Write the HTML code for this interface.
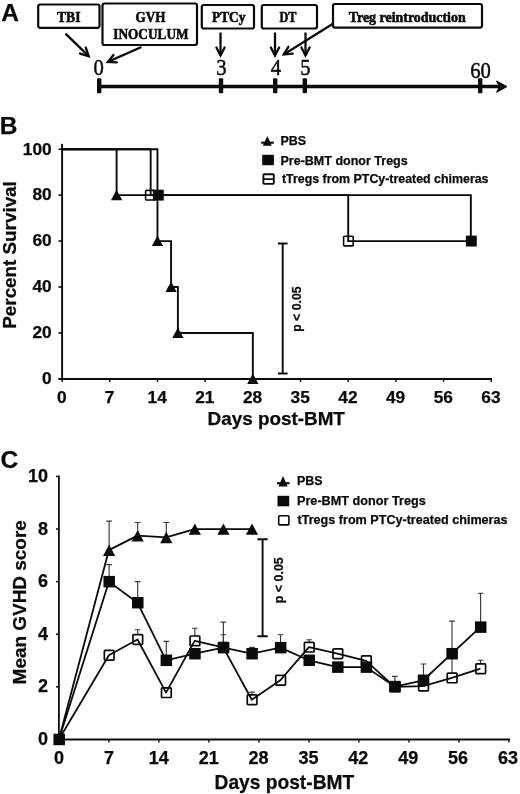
<!DOCTYPE html>
<html><head><meta charset="utf-8"><title>Figure</title>
<style>html,body{margin:0;padding:0;background:#fff;}svg{display:block;filter:blur(0.45px);}text{font-family:"Liberation Sans",sans-serif;font-weight:bold;fill:#0a0a0a;stroke:#0a0a0a;stroke-width:0.25px;}.s{font-family:"Liberation Serif",serif;font-weight:bold;stroke-width:0.6px;}.n{font-family:"Liberation Serif",serif;font-weight:normal;stroke-width:0.5px;}</style></head><body>
<svg width="520" height="794" viewBox="0 0 520 794">
<rect width="520" height="794" fill="#fff"/>
<g id="A">
<text x="1.2" y="20.8" font-size="24.5">A</text>
<rect x="38.2" y="4.5" width="61.3" height="23.3" rx="2" ry="2" fill="#fff" stroke="#0a0a0a" stroke-width="2.2"/>
<rect x="102.5" y="3.5" width="94.5" height="41.5" rx="2" ry="2" fill="#fff" stroke="#0a0a0a" stroke-width="2.2"/>
<rect x="201.8" y="5" width="52.19999999999999" height="23.5" rx="2" ry="2" fill="#fff" stroke="#0a0a0a" stroke-width="2.2"/>
<rect x="261.8" y="5" width="55.19999999999999" height="23.5" rx="2" ry="2" fill="#fff" stroke="#0a0a0a" stroke-width="2.2"/>
<rect x="333" y="4.0" width="149" height="23.6" rx="2" ry="2" fill="#fff" stroke="#0a0a0a" stroke-width="2.2"/>
<text class="s" stroke="#0a0a0a" stroke-width="0.6" x="57" y="22.3" font-size="15.2" textLength="23.5" lengthAdjust="spacingAndGlyphs" text-anchor="start">TBI</text>
<text class="s" stroke="#0a0a0a" stroke-width="0.6" x="135.6" y="22.4" font-size="15.2" textLength="29.8" lengthAdjust="spacingAndGlyphs" text-anchor="start">GVH</text>
<text class="s" stroke="#0a0a0a" stroke-width="0.6" x="113.3" y="38.9" font-size="15.2" textLength="75.2" lengthAdjust="spacingAndGlyphs" text-anchor="start">INOCULUM</text>
<text class="s" stroke="#0a0a0a" stroke-width="0.6" x="212" y="22.3" font-size="15.2" textLength="33.5" lengthAdjust="spacingAndGlyphs" text-anchor="start">PTCy</text>
<text class="s" stroke="#0a0a0a" stroke-width="0.6" x="279.5" y="22.3" font-size="15.2" textLength="17" lengthAdjust="spacingAndGlyphs" text-anchor="start">DT</text>
<text class="s" stroke="#0a0a0a" stroke-width="0.6" x="348.7" y="21.8" font-size="15.2" textLength="117" lengthAdjust="spacingAndGlyphs" text-anchor="start">Treg reintroduction</text>
<line x1="98" y1="86.6" x2="500" y2="86.6" stroke="#0a0a0a" stroke-width="3.5"/>
<path d="M507,86.6 L496.5,81 L499.5,86.6 L496.5,92.4 Z" fill="#0a0a0a" stroke="#0a0a0a" stroke-width="1" stroke-linejoin="miter"/>
<rect x="97.0" y="78.3" width="4.4" height="15" rx="1" fill="#0a0a0a"/>
<rect x="218.8" y="78.3" width="4.4" height="15" rx="1" fill="#0a0a0a"/>
<rect x="273.0" y="78.3" width="4.4" height="15" rx="1" fill="#0a0a0a"/>
<rect x="302.6" y="78.3" width="4.4" height="15" rx="1" fill="#0a0a0a"/>
<rect x="478.0" y="78.3" width="4.4" height="15" rx="1" fill="#0a0a0a"/>
<text class="n" stroke="#0a0a0a" stroke-width="0.5" transform="translate(98.7,0) scale(0.88,1) translate(-98.7,0)" x="98.7" y="75" font-size="23.5" text-anchor="middle">0</text>
<text class="n" stroke="#0a0a0a" stroke-width="0.5" transform="translate(221.5,0) scale(0.88,1) translate(-221.5,0)" x="221.5" y="75" font-size="23.5" text-anchor="middle">3</text>
<text class="n" stroke="#0a0a0a" stroke-width="0.5" transform="translate(276,0) scale(0.88,1) translate(-276,0)" x="276" y="75" font-size="23.5" text-anchor="middle">4</text>
<text class="n" stroke="#0a0a0a" stroke-width="0.5" transform="translate(305.5,0) scale(0.88,1) translate(-305.5,0)" x="305.5" y="75" font-size="23.5" text-anchor="middle">5</text>
<text class="n" stroke="#0a0a0a" stroke-width="0.5" transform="translate(480.5,0) scale(0.88,1) translate(-480.5,0)" x="480.5" y="78.3" font-size="23.5" text-anchor="middle">60</text>
<line x1="65.5" y1="33.7" x2="88.7" y2="56.2" stroke="#0a0a0a" stroke-width="2.3"/>
<path d="M80.10,53.55 L88.7,56.2 L85.79,47.68" fill="none" stroke="#0a0a0a" stroke-width="2.3" stroke-linejoin="miter" stroke-linecap="round"/>
<line x1="141.5" y1="47" x2="107.8" y2="61.9" stroke="#0a0a0a" stroke-width="2.3"/>
<path d="M113.48,54.92 L107.8,61.9 L116.79,62.39" fill="none" stroke="#0a0a0a" stroke-width="2.3" stroke-linejoin="miter" stroke-linecap="round"/>
<line x1="220.5" y1="32.5" x2="220.5" y2="55.5" stroke="#0a0a0a" stroke-width="2.3"/>
<path d="M216.41,47.48 L220.5,55.5 L224.59,47.48" fill="none" stroke="#0a0a0a" stroke-width="2.3" stroke-linejoin="miter" stroke-linecap="round"/>
<line x1="275" y1="32.5" x2="275" y2="55.5" stroke="#0a0a0a" stroke-width="2.3"/>
<path d="M270.91,47.48 L275,55.5 L279.09,47.48" fill="none" stroke="#0a0a0a" stroke-width="2.3" stroke-linejoin="miter" stroke-linecap="round"/>
<line x1="305.5" y1="32.5" x2="305.5" y2="55.5" stroke="#0a0a0a" stroke-width="2.3"/>
<path d="M301.41,47.48 L305.5,55.5 L309.59,47.48" fill="none" stroke="#0a0a0a" stroke-width="2.3" stroke-linejoin="miter" stroke-linecap="round"/>
<line x1="332.5" y1="24" x2="283.7" y2="54.5" stroke="#0a0a0a" stroke-width="2.3"/>
<path d="M288.33,46.79 L283.7,54.5 L292.67,53.71" fill="none" stroke="#0a0a0a" stroke-width="2.3" stroke-linejoin="miter" stroke-linecap="round"/>
</g>
<g id="B">
<text x="-0.3" y="134.3" font-size="24.5">B</text>
<line x1="62.1" y1="143.8" x2="62.1" y2="379.9" stroke="#0a0a0a" stroke-width="1.9"/>
<line x1="58.5" y1="378.9" x2="492" y2="378.9" stroke="#0a0a0a" stroke-width="2"/>
<line x1="58.5" y1="378.90" x2="62.1" y2="378.90" stroke="#0a0a0a" stroke-width="1.6"/>
<text x="51.7" y="384.20" font-size="17.3" text-anchor="end">0</text>
<line x1="58.5" y1="332.96" x2="62.1" y2="332.96" stroke="#0a0a0a" stroke-width="1.6"/>
<text x="51.7" y="338.26" font-size="17.3" text-anchor="end">20</text>
<line x1="58.5" y1="287.02" x2="62.1" y2="287.02" stroke="#0a0a0a" stroke-width="1.6"/>
<text x="51.7" y="292.32" font-size="17.3" text-anchor="end">40</text>
<line x1="58.5" y1="241.08" x2="62.1" y2="241.08" stroke="#0a0a0a" stroke-width="1.6"/>
<text x="51.7" y="246.38" font-size="17.3" text-anchor="end">60</text>
<line x1="58.5" y1="195.14" x2="62.1" y2="195.14" stroke="#0a0a0a" stroke-width="1.6"/>
<text x="51.7" y="200.44" font-size="17.3" text-anchor="end">80</text>
<line x1="58.5" y1="149.20" x2="62.1" y2="149.20" stroke="#0a0a0a" stroke-width="1.6"/>
<text x="51.7" y="154.50" font-size="17.3" text-anchor="end">100</text>
<line x1="62.10" y1="378.9" x2="62.10" y2="381.9" stroke="#0a0a0a" stroke-width="1.4"/>
<text x="61.80" y="403.2" font-size="17.3" text-anchor="middle">0</text>
<line x1="109.78" y1="378.9" x2="109.78" y2="381.9" stroke="#0a0a0a" stroke-width="1.4"/>
<text x="109.48" y="403.2" font-size="17.3" text-anchor="middle">7</text>
<line x1="157.47" y1="378.9" x2="157.47" y2="381.9" stroke="#0a0a0a" stroke-width="1.4"/>
<text x="157.17" y="403.2" font-size="17.3" text-anchor="middle">14</text>
<line x1="205.15" y1="378.9" x2="205.15" y2="381.9" stroke="#0a0a0a" stroke-width="1.4"/>
<text x="204.85" y="403.2" font-size="17.3" text-anchor="middle">21</text>
<line x1="252.84" y1="378.9" x2="252.84" y2="381.9" stroke="#0a0a0a" stroke-width="1.4"/>
<text x="252.54" y="403.2" font-size="17.3" text-anchor="middle">28</text>
<line x1="300.52" y1="378.9" x2="300.52" y2="381.9" stroke="#0a0a0a" stroke-width="1.4"/>
<text x="300.22" y="403.2" font-size="17.3" text-anchor="middle">35</text>
<line x1="348.20" y1="378.9" x2="348.20" y2="381.9" stroke="#0a0a0a" stroke-width="1.4"/>
<text x="347.90" y="403.2" font-size="17.3" text-anchor="middle">42</text>
<line x1="395.89" y1="378.9" x2="395.89" y2="381.9" stroke="#0a0a0a" stroke-width="1.4"/>
<text x="395.59" y="403.2" font-size="17.3" text-anchor="middle">49</text>
<line x1="443.57" y1="378.9" x2="443.57" y2="381.9" stroke="#0a0a0a" stroke-width="1.4"/>
<text x="443.27" y="403.2" font-size="17.3" text-anchor="middle">56</text>
<line x1="491.26" y1="378.9" x2="491.26" y2="381.9" stroke="#0a0a0a" stroke-width="1.4"/>
<text x="490.96" y="403.2" font-size="17.3" text-anchor="middle">63</text>
<text x="207.6" y="425.3" font-size="19" textLength="137.3" lengthAdjust="spacingAndGlyphs">Days post-BMT</text>
<text transform="translate(16.1,328.7) rotate(-90)" font-size="18.8" textLength="147.5" lengthAdjust="spacingAndGlyphs">Percent Survival</text>
<path d="M62.10,149.20 L150.66,149.20 L150.66,195.14 L348.20,195.14 L348.20,241.08 L470.82,241.08" fill="none" stroke="#0a0a0a" stroke-width="1.9" stroke-linejoin="miter"/>
<path d="M62.10,149.20 L157.47,149.20 L157.47,195.14 L470.82,195.14 L470.82,241.08" fill="none" stroke="#0a0a0a" stroke-width="1.9" stroke-linejoin="miter"/>
<path d="M62.10,149.20 L116.60,149.20 L116.60,195.14 L157.47,195.14 L157.47,241.08 L171.09,241.08 L171.09,287.02 L177.90,287.02 L177.90,332.96 L252.84,332.96 L252.84,378.90" fill="none" stroke="#0a0a0a" stroke-width="1.9" stroke-linejoin="miter"/>
<rect x="145.60" y="190.34" width="9.6" height="9.6" rx="0.8" fill="none" stroke="#0a0a0a" stroke-width="1.6"/>
<rect x="343.60" y="236.28" width="9.6" height="9.6" rx="0.8" fill="none" stroke="#0a0a0a" stroke-width="1.6"/>
<rect x="152.85" y="189.69" width="10.9" height="10.9" fill="#0a0a0a"/>
<rect x="465.85" y="235.63" width="10.9" height="10.9" fill="#0a0a0a"/>
<path d="M116.60,189.74 L122.25,200.14 L110.95,200.14 Z" fill="#0a0a0a"/>
<path d="M157.47,235.68 L163.12,246.08 L151.82,246.08 Z" fill="#0a0a0a"/>
<path d="M171.09,281.62 L176.74,292.02 L165.44,292.02 Z" fill="#0a0a0a"/>
<path d="M177.90,327.56 L183.55,337.96 L172.25,337.96 Z" fill="#0a0a0a"/>
<path d="M252.84,373.50 L258.49,383.90 L247.19,383.90 Z" fill="#0a0a0a"/>
<path d="M278,243.5 H287.6 M282.7,243.5 V373.5 M278,373.5 H287.6" fill="none" stroke="#0a0a0a" stroke-width="1.9"/>
<text transform="translate(301.3,331.8) rotate(-90)" font-size="12.4" textLength="45.4" lengthAdjust="spacingAndGlyphs">p &lt; 0.05</text>
<path d="M267.3,135.9 L271.8,145.7 L262.8,145.7 Z" fill="#0a0a0a"/><line x1="261.2" y1="142.7" x2="273.8" y2="142.7" stroke="#0a0a0a" stroke-width="2.1"/>
<rect x="262.2" y="154.8" width="11.7" height="10.4" fill="#0a0a0a"/>
<rect x="263.4" y="174.3" width="10.4" height="9.6" rx="0.8" fill="#fff" stroke="#0a0a0a" stroke-width="1.9"/><line x1="263.4" y1="179.1" x2="273.8" y2="179.1" stroke="#0a0a0a" stroke-width="1.7"/>
<text x="280.5" y="145.2" font-size="12.4" textLength="25.7" lengthAdjust="spacingAndGlyphs">PBS</text>
<text x="280.5" y="164.6" font-size="12.4" textLength="127.2" lengthAdjust="spacingAndGlyphs">Pre-BMT donor Tregs</text>
<text x="282" y="183.3" font-size="12.4" textLength="206.5" lengthAdjust="spacingAndGlyphs">tTregs from PTCy-treated chimeras</text>
</g>
<g id="C">
<text x="0.4" y="468.1" font-size="24.5">C</text>
<line x1="58.9" y1="475.5" x2="58.9" y2="740.45" stroke="#0a0a0a" stroke-width="1.8"/>
<line x1="56" y1="739.45" x2="510" y2="739.45" stroke="#0a0a0a" stroke-width="1.9"/>
<line x1="56" y1="739.45" x2="58.9" y2="739.45" stroke="#0a0a0a" stroke-width="1.5"/>
<text x="48" y="745.05" font-size="18" text-anchor="end">0</text>
<line x1="56" y1="686.85" x2="58.9" y2="686.85" stroke="#0a0a0a" stroke-width="1.5"/>
<text x="48" y="692.45" font-size="18" text-anchor="end">2</text>
<line x1="56" y1="634.25" x2="58.9" y2="634.25" stroke="#0a0a0a" stroke-width="1.5"/>
<text x="48" y="639.85" font-size="18" text-anchor="end">4</text>
<line x1="56" y1="581.65" x2="58.9" y2="581.65" stroke="#0a0a0a" stroke-width="1.5"/>
<text x="48" y="587.25" font-size="18" text-anchor="end">6</text>
<line x1="56" y1="529.05" x2="58.9" y2="529.05" stroke="#0a0a0a" stroke-width="1.5"/>
<text x="48" y="534.65" font-size="18" text-anchor="end">8</text>
<line x1="56" y1="476.45" x2="58.9" y2="476.45" stroke="#0a0a0a" stroke-width="1.5"/>
<text x="48" y="482.05" font-size="18" text-anchor="end">10</text>
<line x1="58.90" y1="739.45" x2="58.90" y2="742.45" stroke="#0a0a0a" stroke-width="1.4"/>
<text x="59.00" y="763.6" font-size="18" text-anchor="middle">0</text>
<line x1="108.91" y1="739.45" x2="108.91" y2="742.45" stroke="#0a0a0a" stroke-width="1.4"/>
<text x="108.89" y="763.6" font-size="18" text-anchor="middle">7</text>
<line x1="158.92" y1="739.45" x2="158.92" y2="742.45" stroke="#0a0a0a" stroke-width="1.4"/>
<text x="158.78" y="763.6" font-size="18" text-anchor="middle">14</text>
<line x1="208.92" y1="739.45" x2="208.92" y2="742.45" stroke="#0a0a0a" stroke-width="1.4"/>
<text x="208.67" y="763.6" font-size="18" text-anchor="middle">21</text>
<line x1="258.93" y1="739.45" x2="258.93" y2="742.45" stroke="#0a0a0a" stroke-width="1.4"/>
<text x="258.56" y="763.6" font-size="18" text-anchor="middle">28</text>
<line x1="308.94" y1="739.45" x2="308.94" y2="742.45" stroke="#0a0a0a" stroke-width="1.4"/>
<text x="308.44" y="763.6" font-size="18" text-anchor="middle">35</text>
<line x1="358.95" y1="739.45" x2="358.95" y2="742.45" stroke="#0a0a0a" stroke-width="1.4"/>
<text x="358.33" y="763.6" font-size="18" text-anchor="middle">42</text>
<line x1="408.96" y1="739.45" x2="408.96" y2="742.45" stroke="#0a0a0a" stroke-width="1.4"/>
<text x="408.22" y="763.6" font-size="18" text-anchor="middle">49</text>
<line x1="458.96" y1="739.45" x2="458.96" y2="742.45" stroke="#0a0a0a" stroke-width="1.4"/>
<text x="458.11" y="763.6" font-size="18" text-anchor="middle">56</text>
<line x1="508.97" y1="739.45" x2="508.97" y2="742.45" stroke="#0a0a0a" stroke-width="1.4"/>
<text x="508.00" y="763.6" font-size="18" text-anchor="middle">63</text>
<text x="214.6" y="788.8" font-size="19.9" textLength="139.6" lengthAdjust="spacingAndGlyphs">Days post-BMT</text>
<text transform="translate(26.3,684.4) rotate(-90)" font-size="18.9" textLength="164.2" lengthAdjust="spacingAndGlyphs">Mean GVHD score</text>
<path d="M137.68,639.51 V629.78 M134.88,629.78 H140.48" fill="none" stroke="#3a3a3a" stroke-width="1.15"/>
<path d="M194.84,640.83 V628.20 M192.04,628.20 H197.64" fill="none" stroke="#3a3a3a" stroke-width="1.15"/>
<path d="M223.41,647.40 V634.78 M220.61,634.78 H226.21" fill="none" stroke="#3a3a3a" stroke-width="1.15"/>
<path d="M251.99,699.74 V692.11 M249.19,692.11 H254.79" fill="none" stroke="#3a3a3a" stroke-width="1.15"/>
<path d="M309.14,647.14 V639.77 M306.34,639.77 H311.94" fill="none" stroke="#3a3a3a" stroke-width="1.15"/>
<path d="M452.02,677.91 V655.29 M449.22,655.29 H454.82" fill="none" stroke="#3a3a3a" stroke-width="1.15"/>
<path d="M480.60,668.70 V660.29 M477.80,660.29 H483.40" fill="none" stroke="#3a3a3a" stroke-width="1.15"/>
<path d="M109.11,581.65 V564.56 M106.31,564.56 H111.91" fill="none" stroke="#3a3a3a" stroke-width="1.15"/>
<path d="M137.68,602.69 V581.65 M134.88,581.65 H140.48" fill="none" stroke="#3a3a3a" stroke-width="1.15"/>
<path d="M166.26,660.29 V641.35 M163.46,641.35 H169.06" fill="none" stroke="#3a3a3a" stroke-width="1.15"/>
<path d="M223.41,647.66 V622.15 M220.61,622.15 H226.21" fill="none" stroke="#3a3a3a" stroke-width="1.15"/>
<path d="M251.99,653.71 V647.40 M249.19,647.40 H254.79" fill="none" stroke="#3a3a3a" stroke-width="1.15"/>
<path d="M280.56,647.66 V634.78 M277.76,634.78 H283.36" fill="none" stroke="#3a3a3a" stroke-width="1.15"/>
<path d="M394.87,686.59 V676.33 M392.07,676.33 H397.67" fill="none" stroke="#3a3a3a" stroke-width="1.15"/>
<path d="M423.44,680.28 V663.97 M420.64,663.97 H426.24" fill="none" stroke="#3a3a3a" stroke-width="1.15"/>
<path d="M452.02,653.71 V621.10 M449.22,621.10 H454.82" fill="none" stroke="#3a3a3a" stroke-width="1.15"/>
<path d="M480.60,627.15 V593.22 M477.80,593.22 H483.40" fill="none" stroke="#3a3a3a" stroke-width="1.15"/>
<path d="M109.11,550.09 V521.16 M106.31,521.16 H111.91" fill="none" stroke="#3a3a3a" stroke-width="1.15"/>
<path d="M137.68,535.62 V522.48 M134.88,522.48 H140.48" fill="none" stroke="#3a3a3a" stroke-width="1.15"/>
<path d="M166.26,537.47 V522.48 M163.46,522.48 H169.06" fill="none" stroke="#3a3a3a" stroke-width="1.15"/>
<rect x="104.36" y="650.44" width="9.7" height="9.7" rx="0.8" fill="#fff" stroke="#0a0a0a" stroke-width="1.7"/>
<rect x="132.93" y="634.66" width="9.7" height="9.7" rx="0.8" fill="#fff" stroke="#0a0a0a" stroke-width="1.7"/>
<rect x="161.51" y="687.79" width="9.7" height="9.7" rx="0.8" fill="#fff" stroke="#0a0a0a" stroke-width="1.7"/>
<rect x="190.09" y="635.98" width="9.7" height="9.7" rx="0.8" fill="#fff" stroke="#0a0a0a" stroke-width="1.7"/>
<rect x="218.66" y="642.55" width="9.7" height="9.7" rx="0.8" fill="#fff" stroke="#0a0a0a" stroke-width="1.7"/>
<rect x="247.24" y="694.89" width="9.7" height="9.7" rx="0.8" fill="#fff" stroke="#0a0a0a" stroke-width="1.7"/>
<rect x="275.81" y="675.43" width="9.7" height="9.7" rx="0.8" fill="#fff" stroke="#0a0a0a" stroke-width="1.7"/>
<rect x="304.39" y="642.29" width="9.7" height="9.7" rx="0.8" fill="#fff" stroke="#0a0a0a" stroke-width="1.7"/>
<rect x="332.97" y="648.86" width="9.7" height="9.7" rx="0.8" fill="#fff" stroke="#0a0a0a" stroke-width="1.7"/>
<rect x="361.54" y="655.96" width="9.7" height="9.7" rx="0.8" fill="#fff" stroke="#0a0a0a" stroke-width="1.7"/>
<rect x="390.12" y="682.00" width="9.7" height="9.7" rx="0.8" fill="#fff" stroke="#0a0a0a" stroke-width="1.7"/>
<rect x="418.69" y="681.21" width="9.7" height="9.7" rx="0.8" fill="#fff" stroke="#0a0a0a" stroke-width="1.7"/>
<rect x="447.27" y="673.06" width="9.7" height="9.7" rx="0.8" fill="#fff" stroke="#0a0a0a" stroke-width="1.7"/>
<rect x="475.85" y="663.85" width="9.7" height="9.7" rx="0.8" fill="#fff" stroke="#0a0a0a" stroke-width="1.7"/>
<path d="M58.90,739.45 L108.91,655.29 L137.48,639.51 L166.06,692.64 L194.64,640.83 L223.21,647.40 L251.79,699.74 L280.36,680.28 L308.94,647.14 L337.52,653.71 L366.09,660.81 L394.67,686.85 L423.24,686.06 L451.82,677.91 L480.40,668.70" fill="none" stroke="#0a0a0a" stroke-width="1.8" stroke-linejoin="round"/>
<path d="M58.90,739.45 L108.91,581.65 L137.48,602.69 L166.06,660.29 L194.64,653.71 L223.21,647.66 L251.79,653.71 L280.36,647.66 L308.94,660.29 L337.52,667.12 L366.09,667.12 L394.67,686.59 L423.24,680.28 L451.82,653.71 L480.40,627.15" fill="none" stroke="#0a0a0a" stroke-width="1.8" stroke-linejoin="round"/>
<path d="M58.90,739.45 L108.91,550.09 L137.48,535.62 L166.06,537.47 L194.64,529.05 L223.21,529.05 L251.79,529.05" fill="none" stroke="#0a0a0a" stroke-width="1.8" stroke-linejoin="round"/>
<rect x="53.45" y="733.70" width="11.5" height="11.5" fill="#0a0a0a"/>
<rect x="103.46" y="575.90" width="11.5" height="11.5" fill="#0a0a0a"/>
<rect x="132.03" y="596.94" width="11.5" height="11.5" fill="#0a0a0a"/>
<rect x="160.61" y="654.54" width="11.5" height="11.5" fill="#0a0a0a"/>
<rect x="189.19" y="647.96" width="11.5" height="11.5" fill="#0a0a0a"/>
<rect x="217.76" y="641.91" width="11.5" height="11.5" fill="#0a0a0a"/>
<rect x="246.34" y="647.96" width="11.5" height="11.5" fill="#0a0a0a"/>
<rect x="274.91" y="641.91" width="11.5" height="11.5" fill="#0a0a0a"/>
<rect x="303.49" y="654.54" width="11.5" height="11.5" fill="#0a0a0a"/>
<rect x="332.07" y="661.38" width="11.5" height="11.5" fill="#0a0a0a"/>
<rect x="360.64" y="661.38" width="11.5" height="11.5" fill="#0a0a0a"/>
<rect x="389.22" y="680.84" width="11.5" height="11.5" fill="#0a0a0a"/>
<rect x="417.79" y="674.53" width="11.5" height="11.5" fill="#0a0a0a"/>
<rect x="446.37" y="647.96" width="11.5" height="11.5" fill="#0a0a0a"/>
<rect x="474.95" y="621.40" width="11.5" height="11.5" fill="#0a0a0a"/>
<path d="M109.11,544.49 L115.21,555.89 L103.01,555.89 Z" fill="#0a0a0a"/>
<path d="M137.68,530.02 L143.78,541.43 L131.58,541.43 Z" fill="#0a0a0a"/>
<path d="M166.26,531.87 L172.36,543.27 L160.16,543.27 Z" fill="#0a0a0a"/>
<path d="M194.84,523.45 L200.94,534.85 L188.74,534.85 Z" fill="#0a0a0a"/>
<path d="M223.41,523.45 L229.51,534.85 L217.31,534.85 Z" fill="#0a0a0a"/>
<path d="M251.99,523.45 L258.09,534.85 L245.89,534.85 Z" fill="#0a0a0a"/>
<path d="M257.4,539.2 H267.7 M262.6,539.2 V636.2 M257.4,636.2 H267.7" fill="none" stroke="#0a0a0a" stroke-width="1.9"/>
<text transform="translate(283.1,603.2) rotate(-90)" font-size="13.4" textLength="46" lengthAdjust="spacingAndGlyphs">p &lt; 0.05</text>
<path d="M283,475.9 L287.6,486.5 L278.4,486.5 Z" fill="#0a0a0a"/><line x1="277" y1="483.2" x2="289.5" y2="483.2" stroke="#0a0a0a" stroke-width="2.1"/>
<rect x="277.5" y="495.8" width="11.7" height="10.5" fill="#0a0a0a"/>
<rect x="278.7" y="515.7" width="10.2" height="9.2" rx="0.8" fill="#fff" stroke="#0a0a0a" stroke-width="1.6"/>
<text x="297" y="485.2" font-size="12.4" textLength="25.5" lengthAdjust="spacingAndGlyphs">PBS</text>
<text x="297" y="505" font-size="12.6" textLength="128.7" lengthAdjust="spacingAndGlyphs">Pre-BMT donor Tregs</text>
<text x="297.5" y="524.3" font-size="12.6" textLength="210" lengthAdjust="spacingAndGlyphs">tTregs from PTCy-treated chimeras</text>
</g>
</svg></body></html>
